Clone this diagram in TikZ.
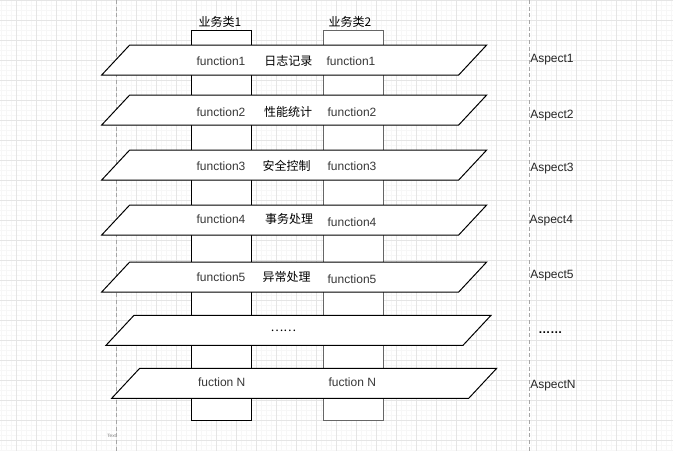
\documentclass[tikz,border=0pt]{standalone}
\usepackage{fontspec}
\setmainfont{Liberation Sans}
\newfontfamily\cjk{Noto Sans CJK SC}

\begin{document}
\begin{tikzpicture}[
    x=0.75pt,y=-0.75pt,
    every node/.style={inner sep=0pt,font=\fontsize{9}{11}\selectfont},
    minorgrid/.style={black!3,line width=0.4pt},
    majorgrid/.style={black!10,line width=0.5pt},
    pageline/.style={black!35,line width=0.5pt,dash pattern=on 3pt off 2pt},
    column/.style={draw,fill=white,line width=0.75pt,minimum width=45pt,minimum height=292.5pt},
    band/.style={draw,fill=white,line width=0.75pt},
    fn/.style={text=black!78},
    cn/.style={font=\fontsize{9}{11}\selectfont\cjk},
    aspect/.style={text=black!85,anchor=west}
]
\useasboundingbox (0,0) rectangle (673,451);
\fill[white] (0,0) rectangle (673,451);

% background grid
\foreach \gx in {1.7,6.7,...,673} \draw[minorgrid] (\gx,0) -- (\gx,451);
\foreach \gy in {0,5,...,451} \draw[minorgrid] (0,\gy) -- (673,\gy);
\foreach \gx in {16.7,36.7,...,673} \draw[majorgrid] (\gx,0) -- (\gx,451);
\foreach \gy in {0,20,...,451} \draw[majorgrid] (0,\gy) -- (673,\gy);
\draw[pageline] (116.7,0) -- (116.7,451);
\draw[pageline] (529.3,0) -- (529.3,451);
\node[anchor=east,text=black!50,font=\fontsize{3.5}{4}\selectfont] (tag) at (116.2,436) {Text};

% business classes
\node[column] (col1) at (221.7,225) {};
\node[column,draw=black!60] (col2) at (353,225) {};
\node[cn] (cls1) at (220,21.7) {业务类1};
\node[cn] (cls2) at (350,21.7) {业务类2};

% aspect bands
\foreach \ty/\bx in {45/101.7,95/101.7,150/101.7,205/101.7,262/101.7,315.3/106,368.3/111.7}
    \draw[band] (\bx,\ty+30) -- ++(28,-30) -- ++(357,0) -- ++(-28,30) -- cycle;

\node[fn] (f1a) at (221,61) {function1};
\node[cn] (a1) at (288.3,61) {日志记录};
\node[fn] (f1b) at (351,61) {function1};

\node[fn] (f2a) at (221,112.7) {function2};
\node[cn] (a2) at (288,112) {性能统计};
\node[fn] (f2b) at (352,112.7) {function2};

\node[fn] (f3a) at (221,166) {function3};
\node[cn] (a3) at (286.7,166) {安全控制};
\node[fn] (f3b) at (352,166) {function3};

\node[fn] (f4a) at (221,219.3) {function4};
\node[cn] (a4) at (289,219) {事务处理};
\node[fn] (f4b) at (352,222.3) {function4};

\node[fn] (f5a) at (221,276.7) {function5};
\node[cn] (a5) at (286.7,277.3) {异常处理};
\node[fn] (f5b) at (352,279.3) {function5};

\node[cn] (dots) at (283.3,330.7) {……};

\node[fn] (fNa) at (221.7,382.3) {fuction N};
\node[fn] (fNb) at (352.3,382.3) {fuction N};

% aspect names
\node[aspect] (asp1) at (530,59.3) {Aspect1};
\node[aspect] (asp2) at (530,116) {Aspect2};
\node[aspect] (asp3) at (530,168.3) {Aspect3};
\node[aspect] (asp4) at (529.3,221) {Aspect4};
\node[aspect] (asp5) at (530,276) {Aspect5};
\node[aspect,text=black] (aspdots) at (538,333) {\bfseries ……};
\node[aspect] (aspN) at (530,386) {AspectN};
\end{tikzpicture}
\end{document}
